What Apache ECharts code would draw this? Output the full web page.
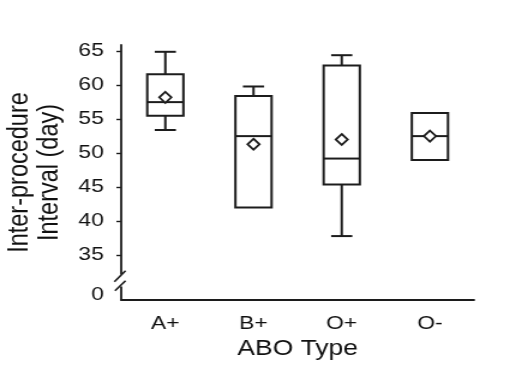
<!DOCTYPE html>
<html>
<head>
<meta charset="utf-8">
<script src="https://cdn.jsdelivr.net/npm/echarts@6/dist/echarts.min.js"></script>
<style>
  html, body { margin: 0; padding: 0; background: #fff; overflow: hidden; }
  /* the source figure is stretched sideways, so draw narrower and widen */
  #chart { width: 433px; height: 365px; transform: scaleX(1.2); transform-origin: 0 0; }
</style>
</head>
<body>
<div id="chart"></div>
<script>
const categories = ['A+', 'B+', 'O+', 'O-']
// min, Q1, median, Q3, max
const boxStats = [
  [53.4, 55.5, 57.5, 61.6, 64.9],
  [42.0, 42.0, 52.5, 58.4, 59.8],
  [37.8, 45.4, 49.2, 62.9, 64.4],
  [49.0, 49.0, 52.5, 55.9, 55.9]
]
const means = [58.2, 51.3, 52.0, 52.5]
const yTickValues = [35, 40, 45, 50, 55, 60, 65]
const breakLabelValue = 29.2

const ink = '#1c1c1c'
const textColor = '#111'
const font = 'Liberation Sans, Arial, sans-serif'

function renderBox(params, api) {
  const i = api.value(0)
  const lo = api.value(1)
  const q1 = api.value(2)
  const med = api.value(3)
  const q3 = api.value(4)
  const hi = api.value(5)
  const band = api.size([1, 0])[0]
  const half = band * 0.205
  const cap = band * 0.12
  const x = api.coord([i, med])[0]
  const y = (v) => api.coord([i, v])[1]
  const style = { stroke: ink, lineWidth: 2, fill: 'transparent' }
  const children = [
    { type: 'rect', shape: { x: x - half, y: y(q3), width: half * 2, height: y(q1) - y(q3) }, style },
    { type: 'line', shape: { x1: x - half, y1: y(med), x2: x + half, y2: y(med) }, style }
  ]
  if (hi > q3) {
    children.push({ type: 'line', shape: { x1: x, y1: y(q3), x2: x, y2: y(hi) }, style })
    children.push({ type: 'line', shape: { x1: x - cap, y1: y(hi), x2: x + cap, y2: y(hi) }, style })
  }
  if (lo < q1) {
    children.push({ type: 'line', shape: { x1: x, y1: y(q1), x2: x, y2: y(lo) }, style })
    children.push({ type: 'line', shape: { x1: x - cap, y1: y(lo), x2: x + cap, y2: y(lo) }, style })
  }
  return { type: 'group', children }
}

const chart = echarts.init(document.getElementById('chart'), null, { renderer: 'canvas' })

chart.setOption({
  animation: false,
  backgroundColor: '#fff',
  grid: { left: 101, right: 38, top: 45, bottom: 65, outerBoundsMode: 'none' },
  xAxis: {
    type: 'category',
    data: categories,
    name: 'ABO Type',
    nameLocation: 'middle',
    nameGap: 37,
    nameTextStyle: { color: textColor, fontSize: 22, fontFamily: font },
    axisLine: { lineStyle: { color: ink, width: 1.8 } },
    axisTick: { alignWithLabel: true, length: 4, lineStyle: { color: ink, width: 1.4 } },
    axisLabel: { color: textColor, fontSize: 19, fontFamily: font, margin: 14 }
  },
  yAxis: {
    type: 'value',
    min: 28.4,
    max: 65.9,
    name: 'Inter-procedure\nInterval (day)',
    nameLocation: 'middle',
    nameRotate: 90,
    nameGap: 46,
    nameTextStyle: { color: textColor, fontSize: 23.5, lineHeight: 25, fontFamily: font },
    splitLine: { show: false },
    axisLine: { show: true, lineStyle: { color: ink, width: 1.8 } },
    axisTick: { show: true, length: 4, customValues: yTickValues, lineStyle: { color: ink, width: 1.4 } },
    axisLabel: {
      color: textColor,
      fontSize: 19,
      fontFamily: font,
      margin: 14.5,
      customValues: [breakLabelValue].concat(yTickValues),
      formatter: (v) => (v < 30 ? '0' : String(v))
    }
  },
  graphic: [
    // axis break: cut the line and put two slashes over it
    { type: 'rect', z: 100, shape: { x: 97, y: 274.5, width: 8, height: 12 }, style: { fill: '#fff' } },
    { type: 'line', z: 101, shape: { x1: 95.3, y1: 281.7, x2: 104.6, y2: 270.7 }, style: { stroke: ink, lineWidth: 1.6 } },
    { type: 'line', z: 101, shape: { x1: 95.8, y1: 290.7, x2: 104.6, y2: 280.7 }, style: { stroke: ink, lineWidth: 1.6 } }
  ],
  series: [
    {
      type: 'custom',
      renderItem: renderBox,
      encode: { x: 0, y: [1, 2, 3, 4, 5] },
      data: boxStats.map((s, i) => [i].concat(s)),
      z: 2
    },
    {
      type: 'scatter',
      symbol: 'diamond',
      symbolSize: [10, 11],
      itemStyle: { color: '#fff', borderColor: ink, borderWidth: 1.8, opacity: 1 },
      data: means.map((m, i) => [i, m]),
      z: 3
    }
  ]
})
</script>
</body>
</html>
